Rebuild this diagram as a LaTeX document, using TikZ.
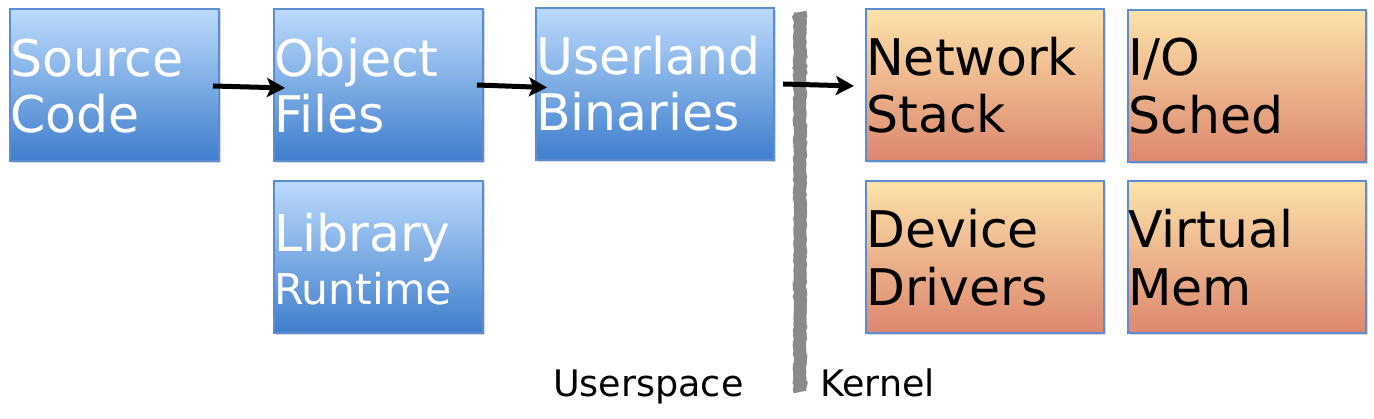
\documentclass[tikz,border=0pt]{standalone}
\usepackage{fontspec}
\setmainfont{DejaVu Sans}
\usetikzlibrary{arrows.meta,shadows,decorations.pathmorphing,calc}
\definecolor{btop}{HTML}{BCDAFB}
\definecolor{bbot}{HTML}{3F7ECD}
\definecolor{otop}{HTML}{FCE2AA}
\definecolor{obot}{HTML}{DC876F}
\definecolor{bord}{HTML}{5B8DD0}
\definecolor{divgray}{HTML}{8A8A8A}
\begin{document}
\begin{tikzpicture}[x=1pt,y=1pt,
  box/.style={draw=bord,line width=1.2pt,anchor=north west,inner sep=0pt,outer sep=0pt,
    minimum height=152pt,
    drop shadow={shadow xshift=1.5pt,shadow yshift=-2.5pt,opacity=.3}},
  narrow/.style={minimum width=209pt},
  wide/.style={minimum width=238pt},
  userbox/.style={box,top color=btop,bottom color=bbot},
  kernbox/.style={box,top color=otop,bottom color=obot},
  wtext/.style={anchor=base west,inner sep=0pt,text=white,font=\fontsize{50.5}{56}\selectfont},
  wsmall/.style={wtext,font=\fontsize{42.5}{48}\selectfont},
  ktext/.style={wtext,text=black},
  lbl/.style={anchor=base west,inner sep=0pt,text=black,font=\fontsize{36.5}{42}\selectfont},
  arr/.style={line width=5pt,-{Stealth[length=18pt,width=19pt,inset=4pt]}},
  divider/.style={draw=divgray,line width=13pt,decorate,
    decoration={random steps,segment length=3pt,amplitude=0.8pt}}]
\useasboundingbox (0,0) rectangle (1374,419);

% boxes
\node[userbox,narrow] (src) at (10,410) {};
\node[userbox,narrow] (obj) at (274,410) {};
\node[userbox,narrow] (lib) at (274,238) {};
\node[userbox,wide]   (bin) at (536,411) {};
\node[kernbox,wide]   (net) at (866,410) {};
\node[kernbox,wide]   (io)  at (1128,409) {};
\node[kernbox,wide]   (dev) at (866,238) {};
\node[kernbox,wide]   (vm)  at (1128,238) {};

% texts
\node[wtext] (srcA) at ($(src.north west)+(0,-68)$) {Source};
\node[wtext] (srcB) at ($(src.north west)+(0,-124)$) {Code};
\node[wtext] (objA) at ($(obj.north west)+(0,-68)$) {Object};
\node[wtext] (objB) at ($(obj.north west)+(0,-124)$) {Files};
\node[wtext] (libA) at ($(lib.north west)+(0,-71)$) {Library};
\node[wsmall] (libB) at ($(lib.north west)+(0,-124)$) {Runtime};
\node[wtext] (binA) at ($(bin.north west)+(0,-67)$) {Userland};
\node[wtext] (binB) at ($(bin.north west)+(0,-123)$) {Binaries};
\node[ktext] (netA) at ($(net.north west)+(0,-67)$) {Network};
\node[ktext] (netB) at ($(net.north west)+(0,-124)$) {Stack};
\node[ktext] (ioA)  at ($(io.north west)+(0,-66)$) {I/O};
\node[ktext] (ioB)  at ($(io.north west)+(0,-124)$) {Sched};
\node[ktext] (devA) at ($(dev.north west)+(0,-67)$) {Device};
\node[ktext] (devB) at ($(dev.north west)+(0,-125)$) {Drivers};
\node[ktext] (vmA)  at ($(vm.north west)+(0,-67)$) {Virtual};
\node[ktext] (vmB)  at ($(vm.north west)+(0,-125)$) {Mem};

% divider
\coordinate (dtop) at (800,407);
\coordinate (dbot) at (800,27);
\draw[divider] (dtop) -- (dbot);

% labels
\node[lbl] (us) at (553,22) {Userspace};
\node[lbl] (kn) at (820,22) {Kernel};

% arrows
\draw[arr] ($(src.east)+(-6,-1)$) -- ($(obj.west)+(11,-3)$);
\draw[arr] ($(obj.east)+(-6,0)$) -- ($(bin.west)+(11,-3.5)$);
\draw[arr] ($(bin.east)+(9,0)$) -- ($(net.west)+(-12,-1)$);
\end{tikzpicture}
\end{document}
